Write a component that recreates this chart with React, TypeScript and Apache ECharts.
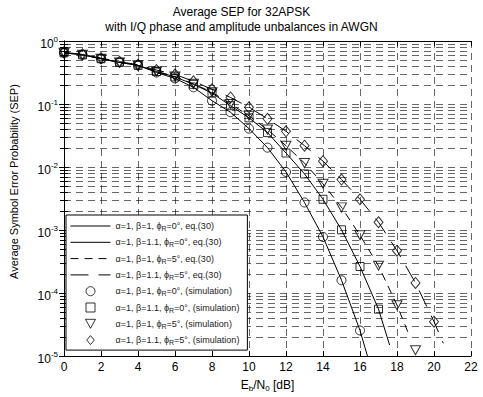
import React, { useEffect, useRef } from 'react';
import * as echarts from 'echarts';

// Eb/N0 values (dB) for the simulation points
const snr = [0, 1, 2, 3, 4, 5, 6, 7, 8, 9, 10, 11, 12, 13, 14, 15, 16, 17, 18, 19, 20];

// Simulation points (SEP)
const simCircle = [0.649, 0.604, 0.523, 0.458, 0.411, 0.316, 0.255, 0.184, 0.113, 0.0741, 0.0407, 0.0203, 0.00835, 0.00274, 0.000778, 0.00016, 2.55e-5];
const simSquare = [0.649, 0.604, 0.523, 0.458, 0.411, 0.328, 0.269, 0.205, 0.149, 0.094, 0.0604, 0.0352, 0.0167, 0.00778, 0.00308, 0.00101, 2.64e-4, 5.56e-5];
const simTriangle = [0.649, 0.604, 0.523, 0.458, 0.411, 0.328, 0.274, 0.209, 0.154, 0.1, 0.065, 0.0393, 0.0218, 0.01155, 0.00542, 0.00229, 8.27e-4, 2.71e-4, 6.43e-5, 1.24e-5];
const simDiamond = [0.66, 0.615, 0.535, 0.47, 0.42, 0.346, 0.294, 0.229, 0.1715, 0.127, 0.0888, 0.0583, 0.0369, 0.0218, 0.0124, 0.00633, 0.00308, 0.00133, 4.7e-4, 1.45e-4, 3.52e-5];

// Theoretical curves, eq.(30)
const thCircleX = [0, 1, 2, 3, 4, 5, 6, 7, 8, 9, 10, 11, 12, 13, 14, 15, 16, 16.5];
const thCircle = [0.649, 0.604, 0.523, 0.458, 0.411, 0.316, 0.255, 0.184, 0.113, 0.0741, 0.0407, 0.0203, 0.00835, 0.00274, 0.000778, 0.00016, 2.55e-5, 8e-6];
const thSquareX = [0, 1, 2, 3, 4, 5, 6, 7, 8, 9, 10, 11, 12, 13, 14, 15, 16, 17, 17.6];
const thSquare = [0.649, 0.604, 0.523, 0.458, 0.411, 0.328, 0.269, 0.205, 0.149, 0.094, 0.0604, 0.0352, 0.0167, 0.00778, 0.00308, 0.00101, 2.64e-4, 5.56e-5, 1.5e-5];
const thTriangleX = [0, 1, 2, 3, 4, 5, 6, 7, 8, 9, 10, 11, 12, 13, 14, 15, 16, 17, 18, 18.7];
const thTriangle = [0.649, 0.604, 0.523, 0.458, 0.411, 0.328, 0.274, 0.209, 0.154, 0.1, 0.065, 0.0393, 0.0218, 0.01155, 0.00542, 0.00229, 8.27e-4, 2.71e-4, 6.43e-5, 2.0e-5];
const thDiamondX = [0, 1, 2, 3, 4, 5, 6, 7, 8, 9, 10, 11, 12, 13, 14, 15, 16, 17, 18, 19, 20, 20.5];
const thDiamond = [0.66, 0.615, 0.535, 0.47, 0.42, 0.346, 0.294, 0.229, 0.1715, 0.127, 0.0888, 0.0583, 0.0369, 0.0218, 0.0124, 0.00633, 0.00308, 0.00133, 4.7e-4, 1.45e-4, 3.52e-5, 1.6e-5];

const seriesNames = [
  'α=1, β=1, ϕR=0°, eq.(30)',
  'α=1, β=1.1, ϕR=0°, eq.(30)',
  'α=1, β=1, ϕR=5°, eq.(30)',
  'α=1, β=1.1, ϕR=5°, eq.(30)',
  'α=1, β=1, ϕR=0°, (simulation)',
  'α=1, β=1.1, ϕR=0°, (simulation)',
  'α=1, β=1, ϕR=5°, (simulation)',
  'α=1, β=1.1, ϕR=5°, (simulation)',
];

const FONT = 'Liberation Sans, Arial, Helvetica, sans-serif';

export default function App() {
  const ref = useRef<HTMLDivElement>(null);
  useEffect(() => {
    const chart = echarts.init(ref.current!, null, { renderer: 'svg' });
    const pairs = (xs: number[], ys: number[]) => ys.map((y, i) => [xs[i], y]);
    const gridStyle = { color: '#000', width: 0.6, type: [7, 5] as number[] };
    const clear = 'rgba(0,0,0,0)';
    const lineSeries = (name: string, xs: number[], ys: number[], type: any) => ({
      name,
      type: 'line',
      data: pairs(xs, ys),
      symbol: 'circle',
      showSymbol: false,
      clip: true,
      lineStyle: { color: '#000', width: 1, type },
      itemStyle: { color: clear, borderColor: clear, borderWidth: 0 },
      z: 3,
    });
    const simSeries = (name: string, ys: number[], symbol: string, size: any) => ({
      name,
      type: 'scatter',
      data: pairs(snr, ys),
      symbol,
      symbolSize: size,
      clip: true,
      itemStyle: { color: clear, borderColor: '#000', borderWidth: 1 },
      z: 4,
    });
    const triDown = 'path://M0,0L10,0L5,9Z';
    const square = 'path://M0,0L10,0L10,10L0,10Z';
    const diamond = 'path://M5,0L10,6L5,12L0,6Z';

    chart.setOption({
      animation: false,
      backgroundColor: '#fff',
      textStyle: { fontFamily: FONT },
      title: {
        text: 'Average SEP for 32APSK\nwith I/Q phase and amplitude unbalances in AWGN',
        left: 'center',
        top: 4,
        padding: [0, 0, 0, 45],
        textStyle: { fontSize: 12, fontWeight: 'normal', color: '#000', lineHeight: 15, fontFamily: FONT },
      },
      grid: { left: 58, right: 12, top: 41, bottom: 36 },
      legend: {
        orient: 'vertical',
        left: 66,
        top: 215,
        itemWidth: 40,
        itemHeight: 9,
        itemGap: 4.3,
        padding: [5, 8, 4, 4],
        backgroundColor: '#fff',
        borderColor: '#000',
        borderWidth: 1,
        borderRadius: 0,
        symbolKeepAspect: true,
        lineStyle: { width: 1 },
        itemStyle: { borderWidth: 1 },
        data: seriesNames,
        formatter: (n: string) => n.replace('ϕR', 'ϕ{sub|R}'),
        textStyle: {
          fontSize: 9,
          lineHeight: 12,
          color: '#222',
          fontFamily: FONT,
          rich: {
            sub: { fontSize: 7, lineHeight: 7, verticalAlign: 'bottom', color: '#222', fontFamily: FONT },
          },
        },
      },
      xAxis: [
        {
          type: 'value',
          min: 0,
          max: 22,
          interval: 2,
          name: 'E{sub|b}/N{sub|0} [dB]',
          nameLocation: 'middle',
          nameGap: 20,
          nameTextStyle: {
            fontSize: 12,
            color: '#000',
            fontFamily: FONT,
            lineHeight: 14,
            rich: { sub: { fontSize: 8, lineHeight: 8, verticalAlign: 'bottom', color: '#000', fontFamily: FONT } },
          },
          axisLine: { onZero: false, lineStyle: { color: '#000', width: 1 } },
          axisTick: { inside: true, length: 5, lineStyle: { color: '#000' } },
          axisLabel: { fontSize: 12, color: '#000', margin: 5, fontFamily: FONT },
          splitLine: { show: true, lineStyle: gridStyle },
        },
        {
          type: 'value',
          position: 'top',
          min: 0,
          max: 22,
          interval: 2,
          axisLine: { onZero: false, lineStyle: { color: '#000', width: 1 } },
          axisTick: { inside: true, length: 5, lineStyle: { color: '#000' } },
          axisLabel: { show: false },
          splitLine: { show: false },
        },
      ],
      yAxis: [
        {
          type: 'log',
          logBase: 10,
          min: 1e-5,
          max: 1,
          name: 'Average Symbol Error Probability (SEP)',
          nameLocation: 'middle',
          nameGap: 45,
          nameTextStyle: { fontSize: 11, color: '#000', fontFamily: FONT, padding: [0, 0, 0, 34] },
          axisLine: { show: true, lineStyle: { color: '#000', width: 1 } },
          axisTick: { inside: true, length: 5, lineStyle: { color: '#000' } },
          minorTick: { show: true, splitNumber: 9, length: 4, lineStyle: { color: '#000' } },
          axisLabel: {
            margin: 6,
            padding: [6, 0, 0, 0],
            formatter: (v: number) => `{b|10}{s|${Math.round(Math.log10(v))}}`,
            rich: {
              b: { fontSize: 12, lineHeight: 18, color: '#000', fontFamily: FONT },
              s: { fontSize: 8, lineHeight: 8, verticalAlign: 'top', color: '#000', fontFamily: FONT },
            },
          },
          splitLine: { show: true, lineStyle: gridStyle },
          minorSplitLine: { show: true, lineStyle: gridStyle },
        },
        {
          type: 'log',
          logBase: 10,
          min: 1e-5,
          max: 1,
          position: 'right',
          axisLine: { show: true, lineStyle: { color: '#000', width: 1 } },
          axisTick: { inside: true, length: 5, lineStyle: { color: '#000' } },
          minorTick: { show: true, splitNumber: 9, length: 4, lineStyle: { color: '#000' } },
          axisLabel: { show: false },
          splitLine: { show: false },
        },
      ],
      series: [
        lineSeries(seriesNames[0], thCircleX, thCircle, 'solid'),
        lineSeries(seriesNames[1], thSquareX, thSquare, 'solid'),
        lineSeries(seriesNames[2], thTriangleX, thTriangle, [8, 6]),
        lineSeries(seriesNames[3], thDiamondX, thDiamond, [18, 10]),
        simSeries(seriesNames[4], simCircle, 'circle', 9),
        simSeries(seriesNames[5], simSquare, square, [8, 8]),
        simSeries(seriesNames[6], simTriangle, triDown, [10, 9]),
        simSeries(seriesNames[7], simDiamond, diamond, [9, 11]),
      ],
    });
    return () => chart.dispose();
  }, []);
  return (
    <div
      ref={ref}
      style={{ position: 'fixed', left: 0, top: 0, width: 483, height: 397, background: '#fff' }}
    />
  );
}
